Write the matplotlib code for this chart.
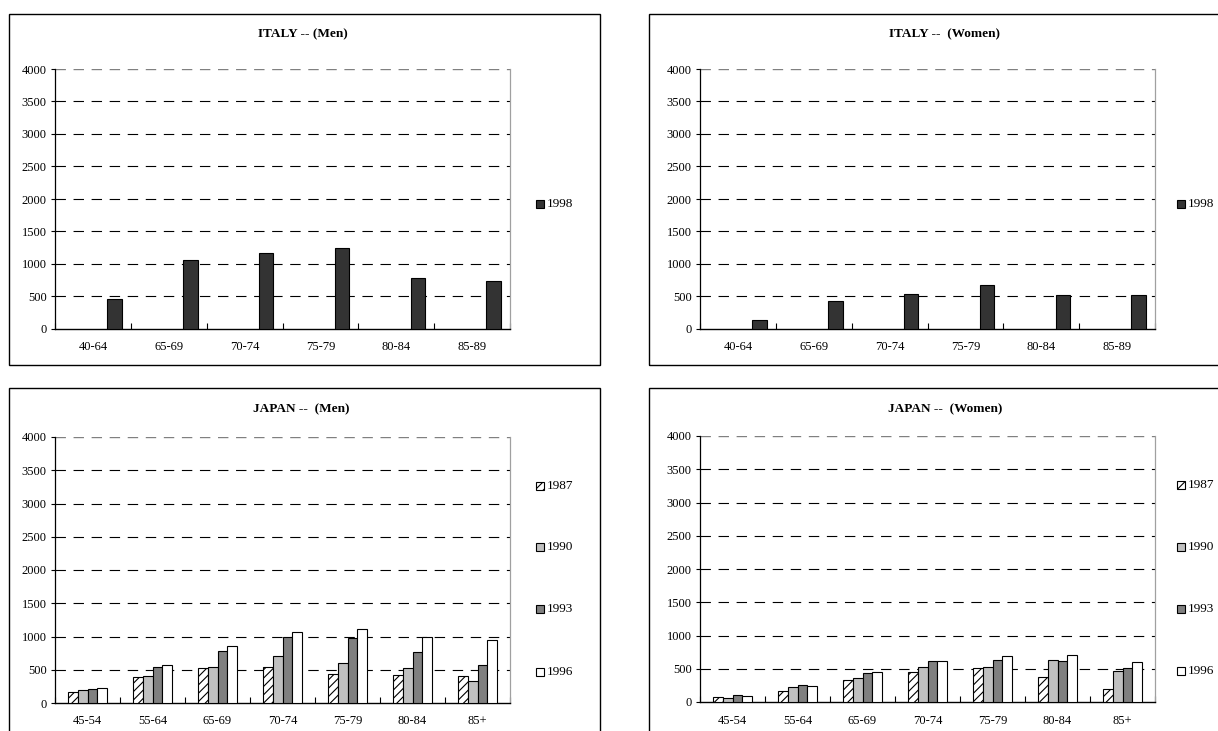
import numpy as np
import matplotlib
matplotlib.use("Agg")
import matplotlib.pyplot as plt
from matplotlib.patches import Rectangle

plt.rcParams["font.family"] = ["Liberation Serif", "DejaVu Serif"]
plt.rcParams["hatch.linewidth"] = 0.8
plt.rcParams["lines.scale_dashes"] = False

# ---- data ----
ages_italy = ["40-64", "65-69", "70-74", "75-79", "80-84", "85-89"]
italy_years = ["1998"]
italy_men_1998 = [455, 1060, 1170, 1245, 790, 735]
italy_women_1998 = [140, 430, 545, 675, 520, 525]

ages_japan = ["45-54", "55-64", "65-69", "70-74", "75-79", "80-84", "85+"]
japan_years = ["1987", "1990", "1993", "1996"]
japan_men_1987 = [170, 395, 525, 545, 440, 415, 400]
japan_men_1990 = [195, 410, 545, 700, 605, 530, 338]
japan_men_1993 = [215, 545, 788, 995, 975, 773, 566]
japan_men_1996 = [225, 566, 859, 1075, 1118, 990, 944]
japan_women_1987 = [82, 170, 325, 445, 510, 374, 192]
japan_women_1990 = [65, 220, 355, 525, 530, 626, 465]
japan_women_1993 = [100, 260, 440, 610, 626, 611, 510]
japan_women_1996 = [95, 235, 445, 620, 687, 712, 601]

y_ticks = [0, 500, 1000, 1500, 2000, 2500, 3000, 3500, 4000]

# ---- styles ----
italy_style = [dict(facecolor="#333333", hatch=None)]
japan_style = [
    dict(facecolor="white", hatch="////"),
    dict(facecolor="#c0c0c0", hatch=None),
    dict(facecolor="#808080", hatch=None),
    dict(facecolor="white", hatch=None),
]
DASH = (0, (7.5, 5.5))

W, H = 1218, 731
fig = plt.figure(figsize=(W / 100, H / 100), dpi=100)


def px_axes(l, t, r, b):
    return fig.add_axes([l / W, 1 - b / H, (r - l) / W, (b - t) / H])


def frame(l, t, r, b):
    fig.patches.append(Rectangle((l / W, 1 - b / H), (r - l) / W, (b - t) / H,
                                 transform=fig.transFigure, fill=False,
                                 edgecolor="black", linewidth=1.0, clip_on=False))


def style_axes(ax, cats):
    n = len(cats)
    ax.set_xlim(-0.5, n - 0.5)
    ax.set_ylim(0, 4000)
    ax.set_yticks(y_ticks)
    ax.set_yticklabels([str(v) for v in y_ticks], fontsize=9)
    ax.tick_params(axis="y", direction="out", length=3, width=0.8, pad=3)
    # boundaries between categories carry the tick marks, labels sit at centres
    ax.set_xticks(np.arange(-0.5, n, 1.0))
    ax.set_xticklabels([])
    ax.tick_params(axis="x", which="major", direction="in", length=4, width=0.8)
    ax.set_xticks(np.arange(n), minor=True)
    ax.set_xticklabels(cats, minor=True, fontsize=9)
    ax.tick_params(axis="x", which="minor", length=0, pad=9)
    for v in y_ticks[1:-1]:
        ax.axhline(v, color="black", linewidth=0.8, linestyle=DASH, zorder=1)
    ax.axhline(4000, color="#808080", linewidth=1.0, linestyle=DASH, zorder=1)
    ax.spines["top"].set_visible(False)
    ax.spines["right"].set_color("#a0a0a0")
    ax.spines["right"].set_linewidth(0.9)
    ax.spines["left"].set_linewidth(0.9)
    ax.spines["bottom"].set_linewidth(1.0)


def legend(x, ys, labels, styles):
    for y, lab, st in zip(ys, labels, styles):
        fig.patches.append(Rectangle((x / W, 1 - (y + 4) / H), 8 / W, 8 / H,
                                     transform=fig.transFigure, facecolor=st["facecolor"],
                                     hatch=st["hatch"], edgecolor="black",
                                     linewidth=0.8, clip_on=False))
        fig.text((x + 11) / W, 1 - y / H, lab, fontsize=9.5, va="center", ha="left")


def italy_panel(l_box, t_box, r_box, b_box, ax_rect, title, title_x, values, leg_x):
    frame(l_box, t_box, r_box, b_box)
    ax = px_axes(*ax_rect)
    style_axes(ax, ages_italy)
    x = np.arange(len(ages_italy))
    ax.bar(x + 0.285, values, width=0.19, color=italy_style[0]["facecolor"],
           edgecolor="black", linewidth=0.8, zorder=3)
    fig.text(title_x / W, 1 - (t_box + 20) / H, title, fontsize=9.5,
             fontweight="bold", ha="center", va="center")
    legend(leg_x, [204], italy_years, italy_style)


def japan_panel(l_box, t_box, r_box, b_box, ax_rect, title, title_x, series, leg_x, leg_ys):
    frame(l_box, t_box, r_box, b_box)
    ax = px_axes(*ax_rect)
    style_axes(ax, ages_japan)
    x = np.arange(len(ages_japan))
    w = 0.15
    for i, (vals, st) in enumerate(zip(series, japan_style)):
        ax.bar(x + (i - 1.5) * w, vals, width=w, color=st["facecolor"],
               hatch=st["hatch"], edgecolor="black", linewidth=0.8, zorder=3)
    fig.text(title_x / W, 1 - (t_box + 21) / H, title, fontsize=9.5,
             fontweight="bold", ha="center", va="center")
    legend(leg_x, leg_ys, japan_years, japan_style)


italy_panel(9, 14, 600, 365, (55, 69, 510, 329), "ITALY -- (Men)", 303,
            italy_men_1998, 536)
italy_panel(649, 14, 1245, 365, (700, 69, 1155, 329), "ITALY --  (Women)", 944,
            italy_women_1998, 1177)
japan_panel(9, 388, 600, 745, (55, 437, 510, 703), "JAPAN --  (Men)", 301,
            [japan_men_1987, japan_men_1990, japan_men_1993, japan_men_1996],
            536, [486, 547, 609, 672])
japan_panel(649, 388, 1245, 745, (700, 436, 1155, 702), "JAPAN --  (Women)", 945,
            [japan_women_1987, japan_women_1990, japan_women_1993, japan_women_1996],
            1177, [485, 547, 609, 671])

fig.savefig("out.png", dpi=100, facecolor="white")
